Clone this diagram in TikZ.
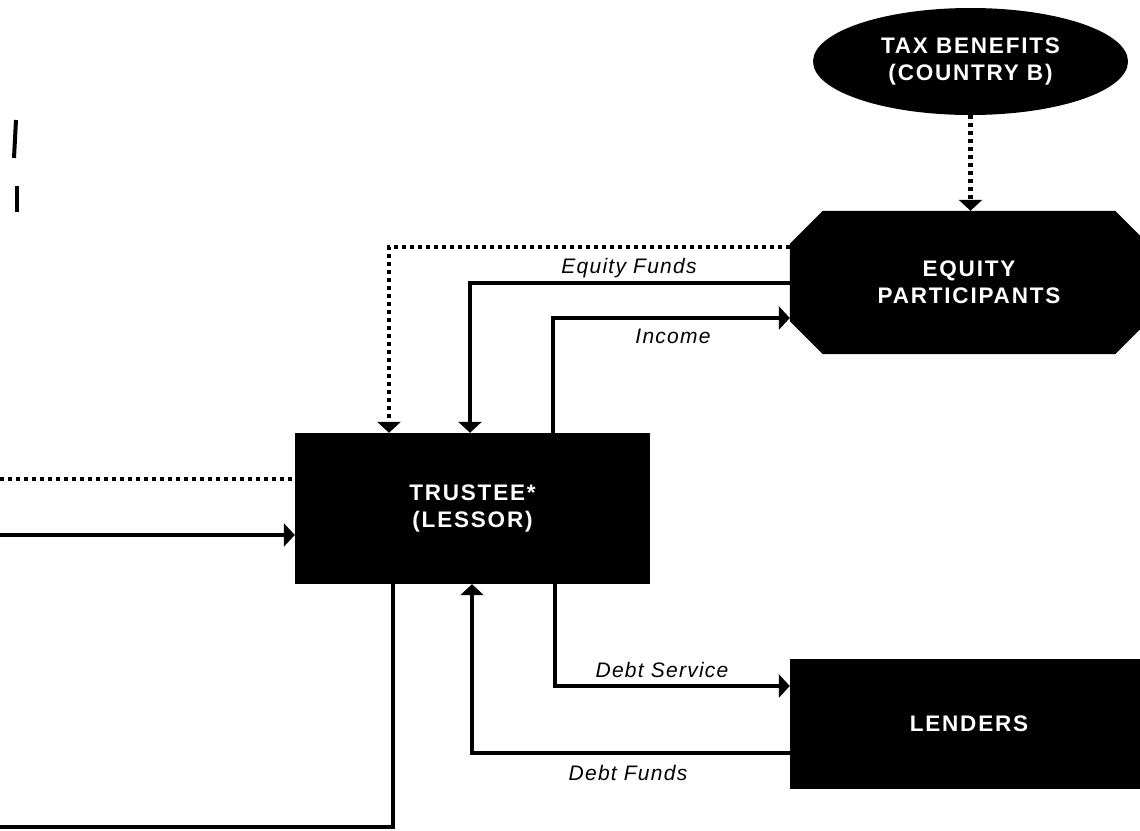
\documentclass[tikz,border=0pt]{standalone}
\usepackage{fontspec}
\setmainfont{Liberation Sans}
\newfontfamily\boxfont[LetterSpace=8]{Liberation Sans}
\newfontfamily\flowfont[LetterSpace=6]{Liberation Sans}
\usetikzlibrary{arrows.meta,shapes.geometric,backgrounds}

\begin{document}
\begin{tikzpicture}[x=1pt,y=-1pt,
  boxtext/.style={text=white,align=center,inner sep=0pt,
    font={\boxfont\bfseries\fontsize{22.5}{27}\selectfont}},
  party/.style={boxtext,fill=black},
  flowlbl/.style={inner sep=0pt,anchor=base,
    font={\flowfont\itshape\fontsize{21}{24}\selectfont}},
  flow/.style={line width=4.5pt},
  dotflow/.style={line width=4.5pt,dash pattern=on 4pt off 4pt},
  tip/.style={-{Triangle[width=23pt,length=11pt]}}
]
\useasboundingbox (0,0) rectangle (1140,830);

% parties
\node[party,ellipse,minimum width=315pt,minimum height=107pt] (tax) at (970.5,61.5) {TAX BENEFITS\\(COUNTRY B)};
\node[boxtext,minimum width=358pt,minimum height=143pt] (eq) at (969,282.5) {EQUITY\\PARTICIPANTS};
\node[party,minimum width=355pt,minimum height=151pt] (tr) at (472.5,508.5) {TRUSTEE*\\(LESSOR)};
\node[party,minimum width=358pt,minimum height=130pt] (ld) at (969,724) {LENDERS};

% page ground and the chamfered equity box
\begin{scope}[on background layer]
  \fill[white] (0,0) rectangle (1140,830);
  \fill ([xshift=33pt]eq.north west) -- ([xshift=-33pt]eq.north east)
     -- ([yshift=-33pt]eq.north east) -- ([yshift=33pt]eq.south east)
     -- ([xshift=-33pt]eq.south east) -- ([xshift=33pt]eq.south west)
     -- ([yshift=33pt]eq.south west) -- ([yshift=-33pt]eq.north west) -- cycle;
\end{scope}

% bend points and free ends
\coordinate (dtb) at (389,247);
\coordinate (efb) at (470,283);
\coordinate (inb) at (553,318);
\coordinate (dsb) at (555,686);
\coordinate (dfb) at (472,753);
\coordinate (lf1) at (0,479);
\coordinate (lf2) at (0,535);
\coordinate (lf3) at (0,827);
\coordinate (btb) at (393,827);

% connectors
\draw[dotflow,tip] (tax.south) -- (tax.south |- eq.north);
\draw[dotflow,tip] (eq.west |- dtb) -- (dtb) -- (dtb |- tr.north);
\draw[flow,tip] (eq.west |- efb) -- (efb) -- (efb |- tr.north);
\draw[flow,tip] (inb |- tr.north) -- (inb) -- (eq.west |- inb);
\draw[dotflow] (lf1) -- (lf1 -| tr.west);
\draw[flow,tip] (lf2) -- (lf2 -| tr.west);
\draw[flow] (btb |- tr.south) -- (btb) -- (lf3);
\draw[flow,tip] (dsb |- tr.south) -- (dsb) -- (dsb -| ld.west);
\draw[flow,tip] (ld.west |- dfb) -- (dfb) -- (dfb |- tr.south);

% connector labels
\node[flowlbl] (lef) at (629,273) {Equity Funds};
\node[flowlbl] (lin) at (673,343) {Income};
\node[flowlbl] (lds) at (662,677) {Debt Service};
\node[flowlbl] (ldf) at (628,780) {Debt Funds};

% marks at the left margin
\draw[line width=4pt] (16,120) -- (14,158);
\draw[line width=4pt] (17,186) -- (17,212);
\end{tikzpicture}
\end{document}
